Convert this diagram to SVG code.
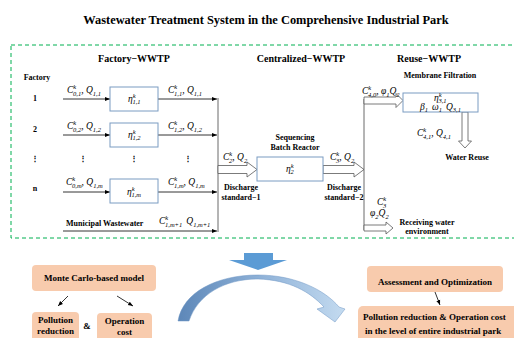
<svg xmlns="http://www.w3.org/2000/svg" width="514" height="338" viewBox="0 0 514 338">
<defs>
<style>
.t{font-family:"Liberation Serif",serif;font-weight:bold;fill:#000}
.b{font-family:"Liberation Serif",serif;font-weight:bold;font-size:8px;fill:#000}
.h{font-family:"Liberation Serif",serif;font-weight:bold;font-size:10px;fill:#000}
.p{font-family:"Liberation Serif",serif;font-weight:bold;font-size:9px;fill:#000}
.m{font-family:"Liberation Serif",serif;font-style:italic;font-size:9.5px;fill:#000}
.s{font-size:6.5px}
.box{fill:#fff;stroke:#7b9cc2;stroke-width:1}
.ln{fill:none;stroke:#000;stroke-width:0.8}
.hol{fill:#fff;stroke:#595959;stroke-width:0.8}
.peach{fill:#f8cbad}
</style>
<marker id="ah" viewBox="0 0 10 10" refX="10" refY="5" markerWidth="5" markerHeight="5" orient="auto" markerUnits="userSpaceOnUse">
<path d="M0,1 L10,5 L0,9 Z" fill="#000"/>
</marker>
<linearGradient id="cg" x1="0" y1="0" x2="1" y2="0">
<stop offset="0" stop-color="#5d87b8"/>
<stop offset="0.5" stop-color="#8fb2d8"/>
<stop offset="1" stop-color="#c4dbf0"/>
</linearGradient>
</defs>
<rect width="514" height="338" fill="#fff"/>
<text class="t" x="266" y="24" font-size="12.4" text-anchor="middle">Wastewater Treatment System in the Comprehensive Industrial Park</text>
<rect x="11" y="45" width="520" height="193" fill="none" stroke="#00b050" stroke-width="1" stroke-dasharray="4,3"/>
<text class="h" x="134" y="62" text-anchor="middle">Factory−WWTP</text>
<text class="h" x="301" y="62" text-anchor="middle">Centralized−WWTP</text>
<text class="h" x="429" y="62" text-anchor="middle">Reuse−WWTP</text>
<text class="b" x="37" y="80" text-anchor="middle">Factory</text>
<text class="b" x="35" y="101" text-anchor="middle">1</text>
<text class="b" x="35" y="132" text-anchor="middle">2</text>
<text class="b" x="35" y="161" text-anchor="middle">⋮</text>
<text class="b" x="35" y="191" text-anchor="middle">n</text>
<text class="b" x="83" y="161" text-anchor="middle">⋮</text>
<text class="b" x="134" y="161" text-anchor="middle">⋮</text>
<text class="b" x="188" y="161" text-anchor="middle">⋮</text>
<g id="connectors">
<line class="ln" x1="63" y1="99" x2="110" y2="99" marker-end="url(#ah)"/>
<line class="ln" x1="63" y1="135" x2="110" y2="135" marker-end="url(#ah)"/>
<line class="ln" x1="63" y1="192" x2="110" y2="192" marker-end="url(#ah)"/>
<line class="ln" x1="158" y1="99" x2="217" y2="99" marker-end="url(#ah)"/>
<line class="ln" x1="158" y1="135" x2="217" y2="135" marker-end="url(#ah)"/>
<line class="ln" x1="158" y1="192" x2="217" y2="192" marker-end="url(#ah)"/>
<line class="ln" x1="63" y1="231" x2="217" y2="231" marker-end="url(#ah)"/>
<line x1="218" y1="98" x2="218" y2="232" stroke="#595959" stroke-width="0.9"/>
<polygon class="hol" points="218,165.5 247,165.5 247,162 257,169.5 247,177 247,173.5 218,173.5"/>
<polygon class="hol" points="323,165.5 354,165.5 354,162 364,169.5 354,177 354,173.5 323,173.5"/>
<line x1="364" y1="99" x2="364" y2="230" stroke="#595959" stroke-width="0.9"/>
<polygon class="hol" points="364,97 396,97 396,93.5 403,100.5 396,107.5 396,104 364,104"/>
<polygon class="hol" points="364,225 386,225 386,222 393,228 386,234 386,231 364,231"/>
<polygon class="hol" points="462,112 468,112 468,141 471.5,141 465,148 458.5,141 462,141"/>
<line class="ln" x1="68" y1="296" x2="58" y2="306" marker-end="url(#ah)"/>
<line class="ln" x1="117" y1="296" x2="133" y2="306" marker-end="url(#ah)"/>
<line class="ln" x1="435" y1="292" x2="440" y2="305" marker-end="url(#ah)"/>
</g>
<g id="factory1">
<rect class="box" x="110" y="87" width="48" height="24"/>
<text class="m" x="128" y="102">η<tspan class="s" dy="-4">k</tspan><tspan class="s" dx="-3.2" dy="6">1,1</tspan></text>
</g>
<g id="factory2">
<rect class="box" x="110" y="123" width="48" height="24"/>
<text class="m" x="128" y="138">η<tspan class="s" dy="-4">k</tspan><tspan class="s" dx="-3.2" dy="6">1,2</tspan></text>
</g>
<g id="factoryn">
<rect class="box" x="110" y="179" width="48" height="24"/>
<text class="m" x="127" y="195">η<tspan class="s" dy="-4">k</tspan><tspan class="s" dx="-3.2" dy="6">1,m</tspan></text>
</g>
<g id="labels">
<text class="m" x="67" y="93">C<tspan class="s" dy="-4">k</tspan><tspan class="s" dx="-3.2" dy="6.5">0,1</tspan><tspan dy="-2.5">, Q</tspan><tspan class="s" dy="2.5">1,1</tspan></text>
<text class="m" x="67" y="129">C<tspan class="s" dy="-4">k</tspan><tspan class="s" dx="-3.2" dy="6.5">0,2</tspan><tspan dy="-2.5">, Q</tspan><tspan class="s" dy="2.5">1,2</tspan></text>
<text class="m" x="66" y="185">C<tspan class="s" dy="-4">k</tspan><tspan class="s" dx="-3.2" dy="6.5">0,m</tspan><tspan dy="-2.5">, Q</tspan><tspan class="s" dy="2.5">1,m</tspan></text>
<text class="m" x="168" y="93">C<tspan class="s" dy="-4">k</tspan><tspan class="s" dx="-3.2" dy="6.5">1,1</tspan><tspan dy="-2.5">, Q</tspan><tspan class="s" dy="2.5">1,1</tspan></text>
<text class="m" x="168" y="129">C<tspan class="s" dy="-4">k</tspan><tspan class="s" dx="-3.2" dy="6.5">1,2</tspan><tspan dy="-2.5">, Q</tspan><tspan class="s" dy="2.5">1,2</tspan></text>
<text class="m" x="168" y="185">C<tspan class="s" dy="-4">k</tspan><tspan class="s" dx="-3.2" dy="6.5">1,m</tspan><tspan dy="-2.5">, Q</tspan><tspan class="s" dy="2.5">1,m</tspan></text>
<text class="b" x="66" y="226">Municipal Wastewater</text>
<text class="m" x="159" y="224">C<tspan class="s" dy="-4">k</tspan><tspan class="s" dx="-3.2" dy="6.5">1,m+1</tspan><tspan dx="4" dy="-2.5">Q</tspan><tspan class="s" dy="2.5">1,m+1</tspan></text>
<text class="m" x="223" y="160">C<tspan class="s" dy="-4">k</tspan><tspan class="s" dx="-3.2" dy="6.5">2</tspan><tspan dy="-2.5">, Q</tspan><tspan class="s" dy="2.5">2</tspan></text>
<text class="b" x="241" y="190" text-anchor="middle">Discharge</text>
<text class="b" x="241" y="200" text-anchor="middle">standard−1</text>
<text class="m" x="330" y="160">C<tspan class="s" dy="-4">k</tspan><tspan class="s" dx="-3.2" dy="6.5">3</tspan><tspan dy="-2.5">, Q</tspan><tspan class="s" dy="2.5">2</tspan></text>
<text class="b" x="344" y="190" text-anchor="middle">Discharge</text>
<text class="b" x="344" y="200" text-anchor="middle">standard−2</text>
<text class="m" x="362" y="94">C<tspan class="s" dy="-4">k</tspan><tspan class="s" dx="-3.2" dy="6.5">4,0</tspan><tspan dy="-2.5">, φ</tspan><tspan class="s" dy="2.5">1</tspan><tspan dy="-2.5">Q</tspan><tspan class="s" dy="2.5">2</tspan></text>
<text class="m" x="417" y="136">C<tspan class="s" dy="-4">k</tspan><tspan class="s" dx="-3.2" dy="6.5">4,1</tspan><tspan dy="-2.5">, Q</tspan><tspan class="s" dy="2.5">4,1</tspan></text>
<text class="b" x="467" y="160" text-anchor="middle">Water Reuse</text>
<text class="m" x="377" y="205">C<tspan class="s" dy="-4">k</tspan><tspan class="s" dx="-3.2" dy="6.5">3</tspan></text>
<text class="m" x="370" y="216">φ<tspan class="s" dy="2.5">2</tspan><tspan dy="-2.5">Q</tspan><tspan class="s" dy="2.5">2</tspan></text>
<text class="b" x="427" y="224.5" text-anchor="middle">Receiving water</text>
<text class="b" x="427" y="234" text-anchor="middle">environment</text>
</g>
<g id="sbr">
<text class="b" x="295" y="139.5" text-anchor="middle">Sequencing</text>
<text class="b" x="295" y="149.5" text-anchor="middle">Batch Reactor</text>
<rect class="box" x="257" y="157" width="66" height="24"/>
<text class="m" x="286" y="172">η<tspan class="s" dy="-4">k</tspan><tspan class="s" dx="-3.2" dy="6">2</tspan></text>
</g>
<g id="membrane">
<text class="b" x="440" y="78" text-anchor="middle">Membrane Filtration</text>
<rect class="box" x="403" y="93" width="75" height="19"/>
<text class="m" x="434" y="101">η<tspan class="s" dy="-4">k</tspan><tspan class="s" dx="-3.2" dy="6">3,1</tspan></text>
<text class="m" x="420" y="110">β<tspan class="s" dy="2">1</tspan><tspan dx="4" dy="-2">ω</tspan><tspan class="s" dy="2">1</tspan><tspan dx="4" dy="-2">Q</tspan><tspan class="s" dy="2">3,1</tspan></text>
</g>
<g id="bigarrow">
<polygon points="244,253 273,253 273,260 287,260 258,270 229,260 244,260" fill="#5b9bd5"/>
</g>
<g id="cyclearrow">
<path d="M178,321 C183,292 217,275 258,275 C295,275 325,290 339,307 L345,309 L335,322 L317,309 L324,307 C310,292 290,280 258,279 C225,279 198,294 189,321 Z" fill="url(#cg)" stroke="#6f97c4" stroke-width="0.5"/>
</g>
<g id="montecarlo">
<rect class="peach" x="32" y="265" width="124" height="26" rx="4"/>
<text class="p" x="94" y="281" text-anchor="middle">Monte Carlo-based model</text>
</g>
<g id="pollution">
<rect class="peach" x="32" y="312" width="47" height="30" rx="4"/>
<text class="p" x="55.5" y="323" text-anchor="middle">Pollution</text>
<text class="p" x="55.5" y="334" text-anchor="middle">reduction</text>
</g>
<text class="p" x="87" y="329" text-anchor="middle" font-size="10">&amp;</text>
<g id="operation">
<rect class="peach" x="97" y="313" width="55" height="30" rx="4"/>
<text class="p" x="124.5" y="324" text-anchor="middle">Operation</text>
<text class="p" x="124.5" y="335" text-anchor="middle">cost</text>
</g>
<g id="assessment">
<rect class="peach" x="367" y="266" width="136" height="26" rx="4"/>
<text class="p" x="435" y="285" text-anchor="middle">Assessment and Optimization</text>
</g>
<g id="result">
<rect class="peach" x="358" y="306" width="170" height="40" rx="5"/>
<text class="p" x="363" y="320">Pollution reduction &amp; Operation cost</text>
<text class="p" x="365" y="334">in the level of entire industrial park</text>
</g>
</svg>
